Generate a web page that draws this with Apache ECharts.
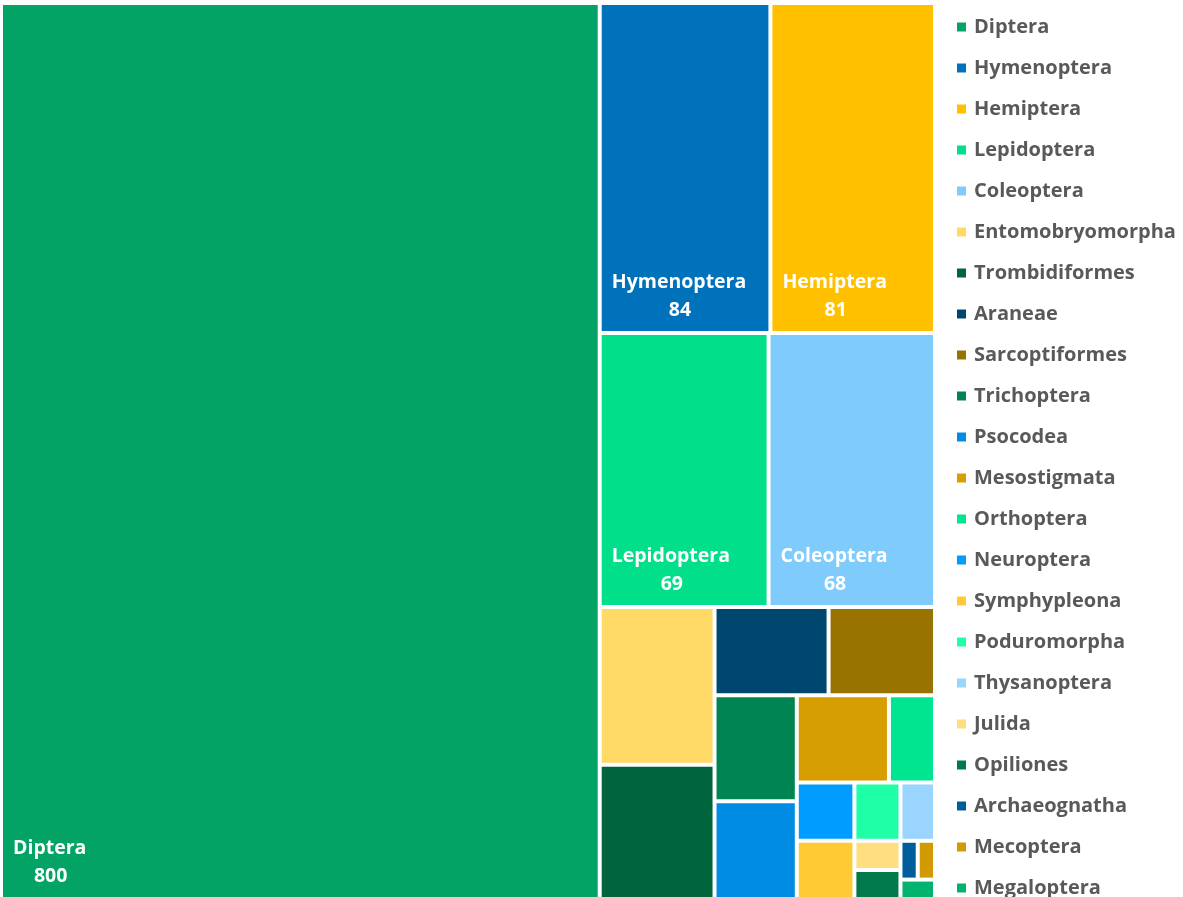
<!DOCTYPE html>
<html><head><meta charset="utf-8">
<script src="https://cdn.jsdelivr.net/npm/echarts@6/dist/echarts.min.js"></script>
<style>html,body{margin:0;padding:0;background:#fff;overflow:hidden}#c{width:1183px;height:897px}</style>
</head><body><div id="c"></div>
<script>
const categories = ['Diptera','Hymenoptera','Hemiptera','Lepidoptera','Coleoptera','Entomobryomorpha','Trombidiformes','Araneae','Sarcoptiformes','Trichoptera','Psocodea','Mesostigmata','Orthoptera','Neuroptera','Symphypleona','Poduromorpha','Thysanoptera','Julida','Opiliones','Archaeognatha','Mecoptera','Megaloptera'];
const counts = [800, 84, 81, 69, 68, 27, 23, 15, 14, 13, 12, 12, 6, 5, 5, 4, 3, 2, 2, 1, 1, 1];
const colors = ['#02A365','#0072BC','#FFC000','#02DF8A','#7FCCFC','#FED966','#00643C','#00476F','#997300','#008452','#008CE3','#D69E00','#00E58F','#009CFF','#FFCA33','#1FFFA8','#99D5FF','#FFDE80','#007A4A','#005D9C','#D19A00','#02B36F'];
const labeledCount = 5;

const FONT = '"Open Sans", "DejaVu Sans", sans-serif';
const LABEL_SIZE = 19.5;
const LINE_H = 28;

const chart = echarts.init(document.getElementById('c'), null, {renderer: 'canvas'});

function makeData(paddings) {
  return categories.map((n, i) => ({
    name: n,
    value: counts[i],
    itemStyle: {color: colors[i]},
    label: (i < labeledCount && paddings && paddings[i])
      ? {show: true, padding: paddings[i]}
      : {show: false}
  }));
}

chart.setOption({
  animation: false,
  backgroundColor: '#ffffff',
  legend: {
    orient: 'vertical',
    left: 957,
    top: 15,
    height: 1000,
    padding: 0,
    icon: 'rect',
    itemWidth: 9,
    itemHeight: 9,
    itemGap: 17,
    selectedMode: false,
    data: categories,
    textStyle: {
      color: '#595959',
      fontFamily: FONT,
      fontWeight: 'bold',
      fontSize: 20,
      lineHeight: 24,
      padding: [0, 0, 0, 3]
    }
  },
  series: [
    {
      type: 'pie',
      silent: true,
      radius: [0, 0],
      center: [-100, -100],
      label: {show: false},
      labelLine: {show: false},
      data: categories.map((n, i) => ({name: n, value: counts[i], itemStyle: {color: colors[i]}}))
    },
    {
      type: 'treemap',
      left: 3,
      top: 5,
      width: 930,
      height: 892,
      squareRatio: 1.16,
      sort: false,
      roam: false,
      nodeClick: false,
      breadcrumb: {show: false},
      itemStyle: {gapWidth: 4, borderWidth: 0},
      label: {
        show: false,
        position: 'insideTopLeft',
        distance: 0,
        formatter: '{n|{b}}\n{v|{c}}',
        rich: {
          n: {color: '#fff', fontFamily: FONT, fontWeight: 'bold', fontSize: LABEL_SIZE, lineHeight: LINE_H},
          v: {color: '#fff', fontFamily: FONT, fontWeight: 'bold', fontSize: LABEL_SIZE, lineHeight: LINE_H, align: 'center'}
        }
      },
      data: makeData(null)
    }
  ]
});

// Second pass: place labels at the bottom-left of each rectangle, using the layout ECharts computed.
try {
  const sm = chart.getModel().getSeriesByIndex(1);
  const tree = sm.getData().tree;
  const ctx = document.createElement('canvas').getContext('2d');
  ctx.font = 'bold ' + LABEL_SIZE + 'px ' + FONT;
  const paddings = categories.map((n, i) => {
    if (i >= labeledCount) return null;
    const node = tree.root.children.find(c => c.name === n);
    const lay = node.getLayout();
    const nw = Math.max(ctx.measureText(n).width, ctx.measureText(String(counts[i])).width);
    const bottom = 7, left = 10;
    return [Math.max(lay.height - bottom - 2 * LINE_H, 0), Math.max(lay.width - left - nw - 2, 0), bottom, left];
  });
  chart.setOption({series: [{}, {data: makeData(paddings)}]});
} catch (e) {
  console.error(e);
}
</script>
</body></html>
